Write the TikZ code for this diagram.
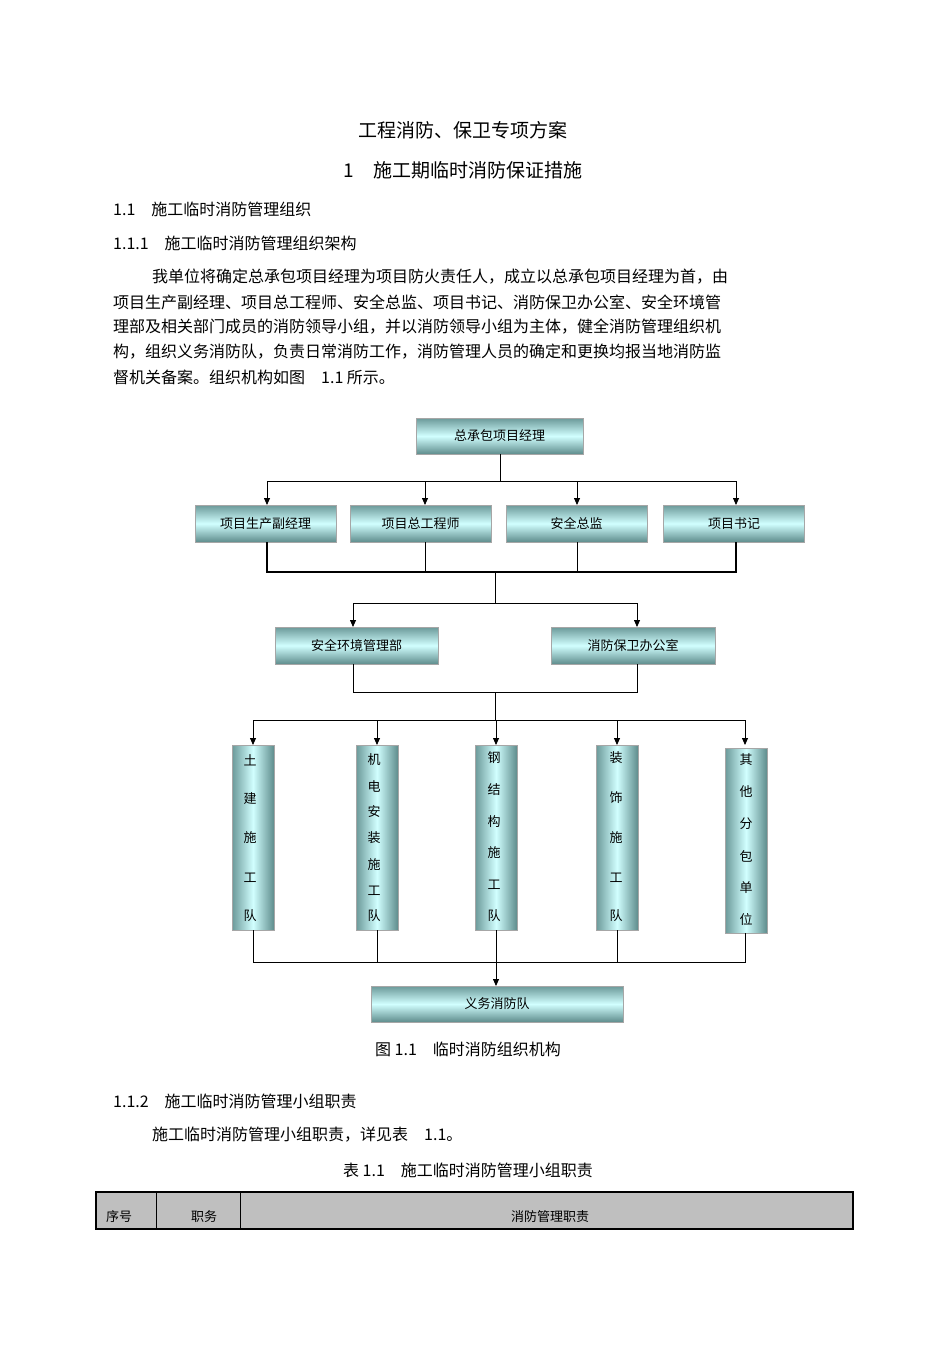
\documentclass[tikz,border=0pt]{standalone}
\usepackage{fontspec}
\setmainfont{Liberation Serif}
\newfontfamily\cjk{Noto Sans CJK SC}
\usetikzlibrary{arrows.meta}
\begin{document}
\begin{tikzpicture}[x=1pt,y=-1pt,
  hbox/.style={draw=gray!70,top color=teal!45!gray!80,bottom color=teal!40!gray!90,middle color=cyan!18,font=\cjk\fontsize{13}{13}\selectfont,inner sep=0pt},
  vbox/.style={draw=gray!70,left color=teal!45!gray!80,right color=teal!40!gray!90,middle color=cyan!18,inner sep=0pt},
  vt/.style={font=\cjk\fontsize{13}{13}\selectfont},
  ln/.style={line width=0.8pt},
  arr/.style={ln,-{Triangle[length=7pt,width=6pt]}},
  body/.style={anchor=west,font=\cjk\fontsize{16}{16}\selectfont,inner sep=0pt}]
\useasboundingbox[fill=white] (0,0) rectangle (950,1346);
\node[font=\cjk\fontsize{19}{19}\selectfont] (t1) at (463,130) {工程消防、保卫专项方案};
\node[font=\cjk\fontsize{19}{19}\selectfont] (t2) at (463,170) {1\quad 施工期临时消防保证措施};
\node[body] (h1) at (113,209) {1.1\quad 施工临时消防管理组织};
\node[body] (h2) at (113,243) {1.1.1\quad 施工临时消防管理组织架构};
\node[body] (p1) at (152,277) {我单位将确定总承包项目经理为项目防火责任人，成立以总承包项目经理为首，由};
\node[body] (p2) at (113,302) {项目生产副经理、项目总工程师、安全总监、项目书记、消防保卫办公室、安全环境管};
\node[body] (p3) at (113,327) {理部及相关部门成员的消防领导小组，并以消防领导小组为主体，健全消防管理组织机};
\node[body] (p4) at (113,352) {构，组织义务消防队，负责日常消防工作，消防管理人员的确定和更换均报当地消防监};
\node[body] (p5) at (113,377) {督机关备案。组织机构如图\quad 1.1 所示。};

% boxes
\node[hbox,minimum width=167,minimum height=36] (top) at (499.5,436) {总承包项目经理};
\node[hbox,minimum width=141,minimum height=37] (b1) at (265.5,523.5) {项目生产副经理};
\node[hbox,minimum width=141,minimum height=37] (b2) at (420.5,523.5) {项目总工程师};
\node[hbox,minimum width=141,minimum height=37] (b3) at (576.5,523.5) {安全总监};
\node[hbox,minimum width=141,minimum height=37] (b4) at (734,523.5) {项目书记};
\node[hbox,minimum width=163,minimum height=37] (c1) at (356.5,645.5) {安全环境管理部};
\node[hbox,minimum width=164,minimum height=37] (c2) at (633,645.5) {消防保卫办公室};
\node[vbox,minimum width=42,minimum height=185] (d1) at (253,837.5) {};
\node[vbox,minimum width=42,minimum height=185] (d2) at (377,837.5) {};
\node[vbox,minimum width=42,minimum height=185] (d3) at (496,837.5) {};
\node[vbox,minimum width=42,minimum height=185] (d4) at (617,837.5) {};
\node[vbox,minimum width=42,minimum height=185] (d5) at (746,840.5) {};
\node[hbox,minimum width=252,minimum height=36] (e) at (497,1004) {义务消防队};
\foreach \ch/\y in {土/760,建/799,施/838,工/878,队/916} \node[vt] at (250,\y) {\ch};
\foreach \ch/\y in {机/760,电/786,安/812,装/838,施/865,工/891,队/916} \node[vt] at (374,\y) {\ch};
\foreach \ch/\y in {钢/758,结/790,构/822,施/853,工/885,队/916} \node[vt] at (494,\y) {\ch};
\foreach \ch/\y in {装/758,饰/798,施/838,工/878,队/916} \node[vt] at (616,\y) {\ch};
\foreach \ch/\y in {其/760,他/792,分/824,包/856,单/888,位/919} \node[vt] at (746,\y) {\ch};

% connectors
\coordinate (j1) at (500,481);
\draw[ln] (top.south -| j1) -- (j1);
\draw[ln] (267,481) -- (736,481);
\foreach \b/\x in {b1/267,b2/425,b3/577,b4/736} \draw[arr] (\x,481) -- (\x,505);
\foreach \x in {425,577} \draw[ln] (\x,542) -- (\x,572);
\draw[line width=1.6pt] (267,542) -- (267,572) -- (736,572) -- (736,542);
\draw[ln] (495,572) -- (495,603);
\draw[ln] (353,603) -- (637,603);
\draw[arr] (353,603) -- (353,627);
\draw[arr] (637,603) -- (637,627);
\draw[ln] (353,664) -- (353,692) -- (637,692) -- (637,664);
\draw[ln] (495,692) -- (495,720);
\draw[ln] (253,720) -- (745,720);
\foreach \x in {253,377,496,617,745} \draw[arr] (\x,720) -- (\x,745);
\draw[ln] (253,930) -- (253,962) -- (745,962) -- (745,933);
\foreach \x in {377,617} \draw[ln] (\x,930) -- (\x,962);
\draw[arr] (496,930) -- (496,986);

\node[font=\cjk\fontsize{16}{16}\selectfont] (cap) at (468,1049) {图 1.1\quad 临时消防组织机构};
\node[body] (h3) at (113,1101) {1.1.2\quad 施工临时消防管理小组职责};
\node[body] (p6) at (152,1135) {施工临时消防管理小组职责，详见表\quad 1.1。};
\node[font=\cjk\fontsize{16}{16}\selectfont] (tc) at (468,1170) {表 1.1\quad 施工临时消防管理小组职责};
\draw[fill=black!25,line width=1.8pt] (96,1192) rectangle (853,1229);
\draw[line width=0.8pt] (156,1192) -- (156,1229) (240,1192) -- (240,1229);
\node[font=\cjk\fontsize{13}{13}\selectfont] (k1) at (119,1217) {序号};
\node[font=\cjk\fontsize{13}{13}\selectfont] (k2) at (204,1217) {职务};
\node[font=\cjk\fontsize{13}{13}\selectfont] (k3) at (550,1217) {消防管理职责};
\end{tikzpicture}
\end{document}
